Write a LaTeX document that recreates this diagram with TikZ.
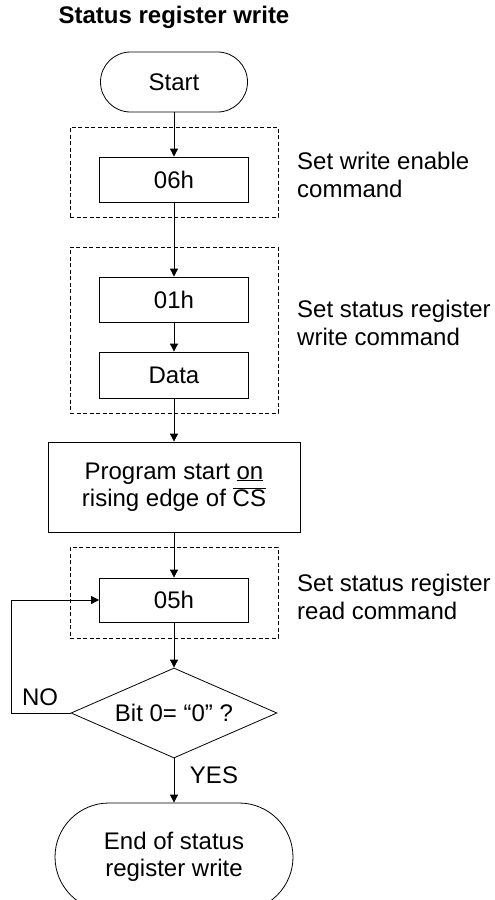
\documentclass[tikz,border=0pt]{standalone}
\usepackage{fontspec}
\setmainfont{Liberation Sans}
\usetikzlibrary{shapes.geometric,arrows.meta}
\begin{document}
\begin{tikzpicture}[x=1pt,y=-1pt,
  every node/.style={font=\fontsize{24}{27.5}\selectfont},
  arr/.style={line width=0.8pt,-{Triangle[length=8pt,width=8pt]}},
  ln/.style={line width=0.8pt},
  procbox/.style={draw,line width=0.8pt,minimum width=149pt,minimum height=45pt,inner sep=0pt},
  grpbox/.style={draw,line width=0.8pt,dash pattern=on 4pt off 2.5pt,minimum width=208pt,inner sep=0pt},
  term/.style={draw,line width=0.8pt,inner sep=0pt,align=center},
  note/.style={anchor=west,align=left,inner sep=0pt}]
\useasboundingbox (0,0) rectangle (495,900);

\node[font=\fontsize{24}{27.5}\selectfont\bfseries] (title) at (174,17) {Status register write};

\node[term,minimum width=147pt,minimum height=60pt,rounded corners=30pt] (start) at (174,82) {Start};

\node[grpbox,minimum height=90pt] (g1) at (174,172) {};
\node[procbox] (n06) at (174,179.5) {06h};
\node[note] (l1) at (297,175) {Set write enable\\command};

\node[grpbox,minimum height=166pt] (g2) at (174,330) {};
\node[procbox] (n01) at (174,299.5) {01h};
\node[procbox,minimum height=46pt] (data) at (174,375) {Data};
\node[note] (l2) at (297,323) {Set status register\\write command};

\node[term,rounded corners=0pt,minimum width=252pt,minimum height=90pt] (prog) at (174,487)
  {Program start \underline{on}\\rising edge of $\overline{\hbox{CS}}$};

\node[grpbox,minimum height=91pt] (g3) at (174,592.5) {};
\node[procbox,minimum height=44pt] (n05) at (174,600) {05h};
\node[note] (l3) at (297,597) {Set status register\\read command};

\node[draw,diamond,line width=0.8pt,aspect=2.29,minimum width=206pt,minimum height=90pt,inner sep=0pt] (dec) at (174,713) {Bit 0= “0” ?};

\node[term,minimum width=238pt,minimum height=108pt,rounded corners=54pt] (end) at (174,857) {End of status\\register write};

\node (no) at (40,697) {NO};
\node (yes) at (214,775) {YES};
\coordinate (lp) at (11,713);

\draw[arr] (start) -- (n06);
\draw[arr] (n06) -- (n01);
\draw[arr] (n01) -- (data);
\draw[arr] (data) -- (prog);
\draw[arr] (prog) -- (n05);
\draw[arr] (n05) -- (dec);
\draw[arr] (dec) -- (end);
\draw[arr] (dec.west) -- (lp) |- (n05.west);
\end{tikzpicture}
\end{document}
